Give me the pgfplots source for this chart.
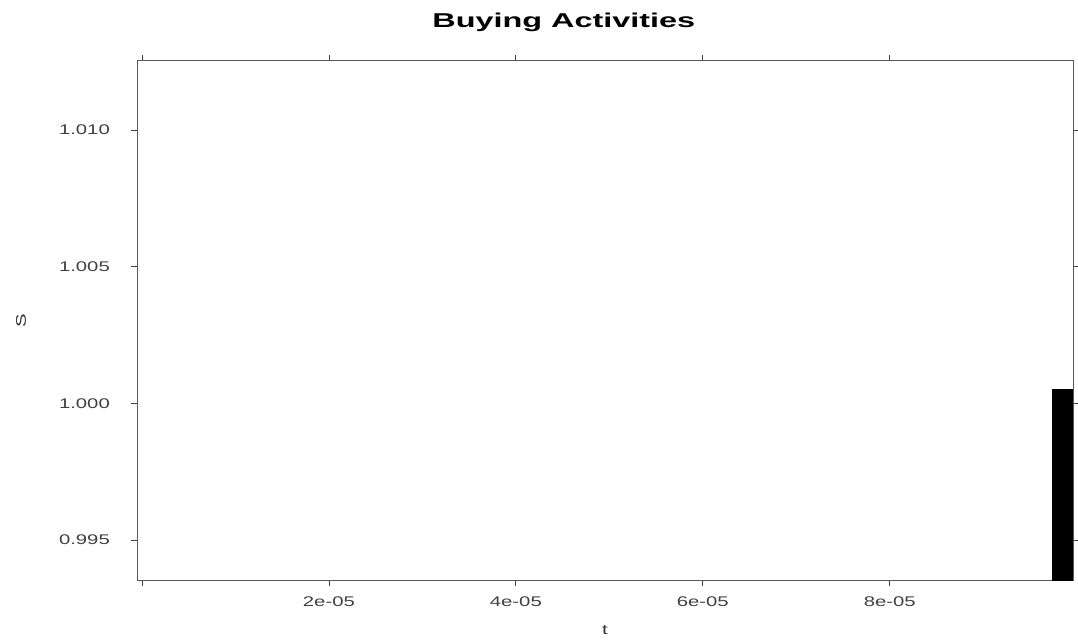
\documentclass[border=0pt]{standalone}
\usepackage{fontspec}
\setmainfont{Liberation Sans}
\newfontfamily\wide[FakeStretch=1.45]{Liberation Sans}
\newfontfamily\widetitle[FakeStretch=1.62]{Liberation Sans}
\usepackage{pgfplots}
\pgfplotsset{compat=1.18}
\begin{document}
\begin{tikzpicture}[x=1pt,y=1pt]
\useasboundingbox (0,0) rectangle (1078,641);
\begin{axis}[
    at={(137pt,61pt)}, anchor=south west,
    scale only axis,
    width=936pt, height=519pt,
    xmin=-5.3e-7, xmax=9.96e-5,
    ymin=0.99354, ymax=1.01252,
    scaled x ticks=false,
    scaled y ticks=false,
    xtick={0,2e-5,4e-5,6e-5,8e-5},
    xticklabels={,2e-05,4e-05,6e-05,8e-05},
    ytick={0.995,1.000,1.005,1.010},
    yticklabels={0.995,1.000,1.005,1.010},
    tick align=outside,
    major tick length=6pt,
    tick style={black!75, line width=0.8pt},
    axis line style={black!65, line width=1pt},
    ticklabel style={font=\wide\fontsize{14}{14}\selectfont, text=black!75, inner sep=0pt},
    xticklabel style={yshift=-11pt},
    yticklabel style={xshift=-21pt},
    title={Buying Activities},
    title style={at={(axis description cs:0.456,1)}, anchor=base, yshift=27pt,
                 inner sep=0pt,
                 font=\widetitle\bfseries\fontsize{20}{20}\selectfont},
    xlabel={t},
    xlabel style={at={(rel axis cs:0.5,0)}, anchor=center, yshift=-50pt,
                  font=\wide\fontsize{14}{14}\selectfont, text=black!80},
    ylabel={S},
    ylabel style={at={(axis description cs:-0.124,0.5)}, anchor=center,
                  font=\wide\fontsize{14}{14}\selectfont, text=black!80},
    clip=true,
]
\addplot[fill=black, draw=none] coordinates {
    (9.74e-5,0.990) (9.96e-5,0.990) (9.96e-5,1.00051) (9.74e-5,1.00051)
} -- cycle;
\end{axis}
\end{tikzpicture}
\end{document}
